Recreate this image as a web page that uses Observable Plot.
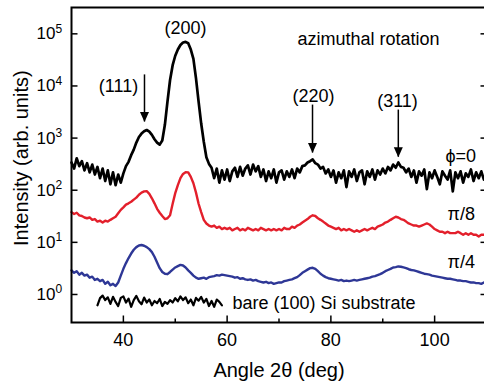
<!DOCTYPE html>
<html>
<head>
<meta charset="utf-8">
<script src="https://cdn.jsdelivr.net/npm/d3@7"></script>
<script src="https://cdn.jsdelivr.net/npm/@observablehq/plot@0.6"></script>
<style>
  html, body { margin: 0; padding: 0; background: white; }
</style>
</head>
<body>
<div id="chart"></div>
<script>
// Diffraction angle 2θ (deg), sampling of the scans
const angles = [
  30,30.5,31,31.5,32,32.5,33,33.5,34,34.5,
  35,35.5,36,36.5,37,37.5,38,38.5,39,39.5,
  40,40.5,41,41.5,42,42.5,43,43.5,44,44.5,
  45,45.5,46,46.5,47,47.5,48,48.5,49,49.5,
  50,50.5,51,51.5,52,52.5,53,53.5,54,54.5,
  55,55.5,56,56.5,57,57.5,58,58.5,59,59.5,
  60,60.5,61,61.5,62,62.5,63,63.5,64,64.5,
  65,65.5,66,66.5,67,67.5,68,68.5,69,69.5,
  70,70.5,71,71.5,72,72.5,73,73.5,74,74.5,
  75,75.5,76,76.5,77,77.5,78,78.5,79,79.5,
  80,80.5,81,81.5,82,82.5,83,83.5,84,84.5,
  85,85.5,86,86.5,87,87.5,88,88.5,89,89.5,
  90,90.5,91,91.5,92,92.5,93,93.5,94,94.5,
  95,95.5,96,96.5,97,97.5,98,98.5,99,99.5,
  100,100.5,101,101.5,102,102.5,103,103.5,104,104.5,
  105,105.5,106,106.5,107,107.5,108,108.5,109,109.5,
  110
];

// φ = 0 scan (black)
const phi0 = [
  340,260,410,290,360,240,330,220,310,200,
  280,170,260,150,240,130,220,125,200,140,
  210,290,350,470,600,820,1050,1220,1350,1430,
  1330,1150,950,820,750,900,1800,5000,13000,25000,
  38000,50000,61000,68000,70000,66000,50000,33000,14000,5000,
  1900,850,430,320,270,170,260,140,240,160,
  250,150,230,270,180,280,190,260,300,200,
  310,230,290,180,250,150,230,170,250,140,
  220,240,160,230,180,250,170,260,220,290,
  300,340,360,390,330,310,260,280,210,250,
  180,240,140,220,170,240,115,230,180,250,
  150,220,240,130,230,180,250,160,240,200,
  260,210,280,240,310,270,340,280,270,220,
  260,180,240,140,230,190,250,105,220,170,
  240,180,130,230,190,160,240,95,220,170,
  230,140,210,180,250,150,220,170,230,160,
  210
];

// φ = π/8 scan (red)
const phiPi8 = [
  38,35,37,33,32,30,29,30,27,28,
  25,26,24,26,25,27,29,31,36,42,
  47,53,56,60,66,72,82,90,95,96,
  85,70,56,44,37,32,28,29,33,55,
  88,125,170,205,222,220,180,136,90,55,
  38,27,23,21,20,21,19,20,18,19,
  18,19,17,18,19,17,18,17,19,18,
  17,18,17,19,18,17,18,17,18,17,
  18,17,19,18,18,20,19,21,22,24,
  26,28,31,33,32,29,27,25,23,21,
  20,19,18,19,17,18,17,18,17,16,
  17,16,17,18,17,18,19,18,20,21,
  22,24,25,27,29,31,30,28,27,25,
  23,22,21,21,20,21,22,23,22,20,
  18,17,16,16,15,16,15,15,15,16,
  15,14,15,14,15,14,14,13,14,14,
  14
];

// φ = π/4 scan (blue)
const phiPi4 = [
  2.9,2.6,2.8,2.4,2.6,2.3,2.4,2.1,2.2,1.9,
  2.0,1.8,1.9,1.6,1.75,1.5,1.6,1.45,1.7,2.3,
  3.1,4.0,5.0,6.1,7.2,8.1,8.7,8.9,8.6,8.1,
  7.4,6.5,5.3,4.1,3.2,2.7,2.5,2.45,2.7,3.0,
  3.3,3.5,3.7,3.6,3.3,2.9,2.6,2.3,2.1,2.0,
  2.05,2.1,2.0,2.15,2.2,2.25,2.35,2.3,2.4,2.35,
  2.3,2.25,2.2,2.1,2.15,2.0,2.05,1.95,1.9,1.95,
  1.85,1.9,1.8,1.75,1.7,1.75,1.65,1.7,1.6,1.65,
  1.7,1.7,1.8,1.85,1.9,1.95,2.05,2.15,2.35,2.6,
  2.8,3.0,3.2,3.25,3.1,2.8,2.5,2.3,2.15,2.05,
  2.0,1.95,1.9,1.85,1.9,1.8,1.85,1.8,1.85,1.9,
  1.85,1.9,1.95,2.0,2.05,2.1,2.2,2.25,2.35,2.45,
  2.6,2.8,2.95,3.1,3.3,3.35,3.45,3.4,3.3,3.2,
  3.05,2.95,2.9,2.8,2.7,2.6,2.5,2.45,2.4,2.3,
  2.25,2.2,2.15,2.1,2.05,2.0,2.0,1.95,1.9,1.85,
  1.85,1.8,1.8,1.75,1.7,1.7,1.65,1.65,1.6,1.7,
  1.75
];

// bare (100) Si substrate scan (black, 35°–59°)
const bareAngles = [
  35,35.5,36,36.5,37,37.5,38,38.5,39,39.5,
  40,40.5,41,41.5,42,42.5,43,43.5,44,44.5,
  45,45.5,46,46.5,47,47.5,48,48.5,49,49.5,
  50,50.5,51,51.5,52,52.5,53,53.5,54,54.5,
  55,55.5,56,56.5,57,57.5,58,58.5,59
];
const bareSi = [
  0.62,0.85,0.95,0.78,0.88,0.66,0.9,0.72,0.6,0.86,
  0.92,0.7,0.83,0.58,0.78,0.94,0.74,0.65,0.87,0.7,
  0.8,0.62,0.75,0.68,0.82,0.6,0.72,0.66,0.78,0.7,
  0.85,0.74,0.92,0.78,0.88,0.68,0.8,0.62,0.86,0.76,
  0.9,0.7,0.82,0.6,0.75,0.58,0.8,0.72,0.62
];

// Axis ticks
const xMajor = [40, 60, 80, 100];
const xMinor = [50, 70, 90];
const yExponents = [0, 1, 2, 3, 4, 5];

// Peak annotations: arrows (x, top, tip)
const arrowX = [44.07, 76.46, 93.0];
const arrowTop = [16300, 4300, 3450];
const arrowTip = [2040, 517, 430];

// Peak labels (centered)
const peakLabels = ["(200)", "(111)", "(220)", "(311)"];
const peakLabelX = [51.98, 39.06, 76.65, 92.84];
const peakLabelY = [100000, 7670, 4900, 3950];

// Other labels (left aligned)
const sideLabels = ["azimuthal rotation", "\u03d5=0", "\u03c0/8", "\u03c0/4", "bare (100) Si substrate"];
const sideLabelX = [73.57, 102.1, 102.5, 102.5, 61.04];
const sideLabelY = [61500, 346, 26.5, 3.16, 0.538];

const rows = (ys) => angles.map((a, i) => ({a, v: ys[i]}));
const bareRows = bareAngles.map((a, i) => ({a, v: bareSi[i]}));
const arrows = arrowX.map((x, i) => ({x, y1: arrowTop[i], y2: arrowTip[i]}));
const peaks = peakLabels.map((t, i) => ({t, x: peakLabelX[i], y: peakLabelY[i]}));
const sides = sideLabels.map((t, i) => ({t, x: sideLabelX[i], y: sideLabelY[i]}));

const seg = (dx, dy) => ({draw(ctx) { ctx.moveTo(0, 0); ctx.lineTo(dx, dy); }});
const head = {draw(ctx) { ctx.moveTo(0, 0); ctx.lineTo(-4.5, -10); ctx.lineTo(4.5, -10); ctx.closePath(); }};

const red = "#e31f2b";
const blue = "#2e3796";

const chart = Plot.plot({
  width: 484,
  height: 386,
  marginLeft: 71,
  marginRight: -2,
  marginTop: 7,
  marginBottom: 64,
  style: {fontFamily: "'Liberation Sans', Arial, Helvetica, sans-serif", background: "white", color: "black"},
  x: {domain: [30, 110], axis: null},
  y: {type: "log", domain: [0.29, 3.2e5], axis: null},
  marks: [
    Plot.line(rows(phiPi4), {x: "a", y: "v", stroke: blue, strokeWidth: 2.4}),
    Plot.line(rows(phiPi8), {x: "a", y: "v", stroke: red, strokeWidth: 2.4}),
    Plot.line(rows(phi0), {x: "a", y: "v", stroke: "black", strokeWidth: 2.7}),
    Plot.line(bareRows, {x: "a", y: "v", stroke: "black", strokeWidth: 2.2}),
    Plot.ruleX(arrows, {x: "x", y1: "y1", y2: "y2", stroke: "black", strokeWidth: 1.5}),
    Plot.dot(arrows, {x: "x", y: "y2", symbol: head, fill: "black", stroke: "none"}),
    Plot.text(peaks, {x: "x", y: "y", text: "t", textAnchor: "middle", lineAnchor: "bottom", fontSize: 18}),
    Plot.text(sides, {x: "x", y: "y", text: "t", textAnchor: "start", lineAnchor: "bottom", fontSize: 18}),
    // frame
    Plot.frame({stroke: "black", strokeWidth: 2}),
    // ticks
    Plot.dot(xMajor, {x: d => d, frameAnchor: "bottom", symbol: seg(0, -7), fill: "none", stroke: "black", strokeWidth: 1.5}),
    Plot.dot(xMinor, {x: d => d, frameAnchor: "bottom", symbol: seg(0, -4), fill: "none", stroke: "black", strokeWidth: 1.5}),
    Plot.dot(yExponents, {y: d => 10 ** d, frameAnchor: "left", symbol: seg(6, 0), fill: "none", stroke: "black", strokeWidth: 1.5}),
    Plot.dot(yExponents, {y: d => 10 ** d, frameAnchor: "right", symbol: seg(-6, 0), fill: "none", stroke: "black", strokeWidth: 1.5}),
    // tick labels
    Plot.text(xMajor, {x: d => d, text: d => String(d), frameAnchor: "bottom", lineAnchor: "bottom", dy: 23, fontSize: 18}),
    Plot.text(yExponents, {y: d => 10 ** d, text: () => "10", frameAnchor: "left", textAnchor: "end", dx: -16, fontSize: 17}),
    Plot.text(yExponents, {y: d => 10 ** d, text: d => String(d), frameAnchor: "left", textAnchor: "start", dx: -16, dy: -5, fontSize: 12}),
    // axis titles
    Plot.text(["Angle 2\u03b8 (deg)"], {frameAnchor: "bottom", lineAnchor: "bottom", dy: 54, fontSize: 20}),
    Plot.text(["Intensity (arb. units)"], {y: () => 412, frameAnchor: "left", rotate: -90, dx: -43.5, textAnchor: "middle", lineAnchor: "bottom", fontSize: 20})
  ]
});
document.getElementById("chart").appendChild(chart);
</script>
</body>
</html>
